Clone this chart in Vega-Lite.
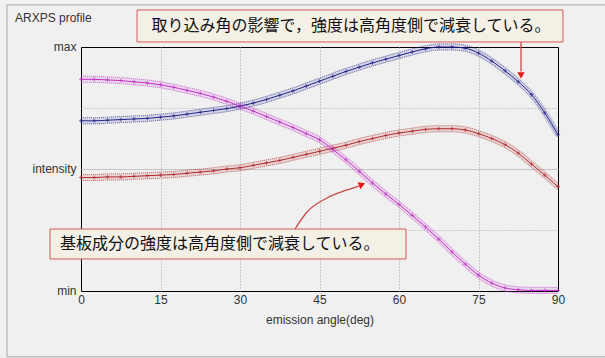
{
  "$schema": "https://vega.github.io/schema/vega-lite/v6.json",
  "width": 477,
  "height": 244,
  "autosize": {"type": "none"},
  "padding": {"left": 81, "top": 47, "right": 47, "bottom": 67},
  "background": "#f0f0f0",
  "config": {"view": {"stroke": "#000000", "strokeWidth": 1, "fill": "#f0f0f0"}, "font": "Liberation Sans"},
  "datasets": {
    "curves": [
      {"a":0,"s":"b","v":2.79},{"a":2.5,"s":"b","v":2.79},{"a":5,"s":"b","v":2.80},{"a":7.5,"s":"b","v":2.81},{"a":10,"s":"b","v":2.82},{"a":12.5,"s":"b","v":2.83},{"a":15,"s":"b","v":2.85},{"a":17.5,"s":"b","v":2.87},{"a":20,"s":"b","v":2.90},{"a":22.5,"s":"b","v":2.93},{"a":25,"s":"b","v":2.96},{"a":27.5,"s":"b","v":2.99},{"a":30,"s":"b","v":3.03},{"a":32.5,"s":"b","v":3.08},{"a":35,"s":"b","v":3.14},{"a":37.5,"s":"b","v":3.21},{"a":40,"s":"b","v":3.28},{"a":42.5,"s":"b","v":3.36},{"a":45,"s":"b","v":3.44},{"a":47.5,"s":"b","v":3.52},{"a":50,"s":"b","v":3.60},{"a":52.5,"s":"b","v":3.67},{"a":55,"s":"b","v":3.74},{"a":57.5,"s":"b","v":3.80},{"a":60,"s":"b","v":3.86},{"a":62.5,"s":"b","v":3.92},{"a":65,"s":"b","v":3.97},{"a":67.5,"s":"b","v":4.00},{"a":70,"s":"b","v":4.00},{"a":72.5,"s":"b","v":3.98},{"a":75,"s":"b","v":3.90},{"a":77.5,"s":"b","v":3.77},{"a":80,"s":"b","v":3.61},{"a":82.5,"s":"b","v":3.43},{"a":85,"s":"b","v":3.22},{"a":87.5,"s":"b","v":2.92},{"a":90,"s":"b","v":2.56},
      {"a":0,"s":"r","v":1.86},{"a":2.5,"s":"r","v":1.86},{"a":5,"s":"r","v":1.87},{"a":7.5,"s":"r","v":1.87},{"a":10,"s":"r","v":1.88},{"a":12.5,"s":"r","v":1.89},{"a":15,"s":"r","v":1.90},{"a":17.5,"s":"r","v":1.91},{"a":20,"s":"r","v":1.93},{"a":22.5,"s":"r","v":1.95},{"a":25,"s":"r","v":1.97},{"a":27.5,"s":"r","v":2.00},{"a":30,"s":"r","v":2.02},{"a":32.5,"s":"r","v":2.06},{"a":35,"s":"r","v":2.10},{"a":37.5,"s":"r","v":2.14},{"a":40,"s":"r","v":2.19},{"a":42.5,"s":"r","v":2.24},{"a":45,"s":"r","v":2.29},{"a":47.5,"s":"r","v":2.34},{"a":50,"s":"r","v":2.39},{"a":52.5,"s":"r","v":2.45},{"a":55,"s":"r","v":2.50},{"a":57.5,"s":"r","v":2.55},{"a":60,"s":"r","v":2.59},{"a":62.5,"s":"r","v":2.62},{"a":65,"s":"r","v":2.65},{"a":67.5,"s":"r","v":2.66},{"a":70,"s":"r","v":2.66},{"a":72.5,"s":"r","v":2.64},{"a":75,"s":"r","v":2.58},{"a":77.5,"s":"r","v":2.50},{"a":80,"s":"r","v":2.40},{"a":82.5,"s":"r","v":2.26},{"a":85,"s":"r","v":2.08},{"a":87.5,"s":"r","v":1.90},{"a":90,"s":"r","v":1.71},
      {"a":0,"s":"m","v":3.47},{"a":2.5,"s":"m","v":3.47},{"a":5,"s":"m","v":3.46},{"a":7.5,"s":"m","v":3.45},{"a":10,"s":"m","v":3.43},{"a":12.5,"s":"m","v":3.41},{"a":15,"s":"m","v":3.38},{"a":17.5,"s":"m","v":3.34},{"a":20,"s":"m","v":3.29},{"a":22.5,"s":"m","v":3.24},{"a":25,"s":"m","v":3.18},{"a":27.5,"s":"m","v":3.11},{"a":30,"s":"m","v":3.03},{"a":32.5,"s":"m","v":2.95},{"a":35,"s":"m","v":2.86},{"a":37.5,"s":"m","v":2.77},{"a":40,"s":"m","v":2.68},{"a":42.5,"s":"m","v":2.58},{"a":45,"s":"m","v":2.48},{"a":47.5,"s":"m","v":2.32},{"a":50,"s":"m","v":2.15},{"a":52.5,"s":"m","v":1.96},{"a":55,"s":"m","v":1.77},{"a":57.5,"s":"m","v":1.59},{"a":60,"s":"m","v":1.42},{"a":62.5,"s":"m","v":1.24},{"a":65,"s":"m","v":1.05},{"a":67.5,"s":"m","v":0.85},{"a":70,"s":"m","v":0.64},{"a":72.5,"s":"m","v":0.44},{"a":75,"s":"m","v":0.26},{"a":77.5,"s":"m","v":0.13},{"a":80,"s":"m","v":0.05},{"a":82.5,"s":"m","v":0.02},{"a":85,"s":"m","v":0.01},{"a":87.5,"s":"m","v":0.01},{"a":90,"s":"m","v":0.01}
    ],
    "frame": [{"a": -13.96, "a2": 99.5, "v": 4.69, "v2": -1.08}],
    "boxes": [
      {"a": 10.57, "a2": 90.94, "v": 4.607, "v2": 4.082},
      {"a": -5.85, "a2": 61.32, "v": 1.016, "v2": 0.525}
    ],
    "arrowTop": [{"a": 83.02, "v": 4.082}, {"a": 83.02, "v": 3.6}],
    "arrowCurve": [{"a": 40.38, "v": 1.016}, {"a": 42.64, "v": 1.295}, {"a": 46.42, "v": 1.525}, {"a": 50.19, "v": 1.656}, {"a": 52.4, "v": 1.72}],
    "headTop": [{"a": 83.02, "v": 3.535}],
    "headCurve": [{"a": 53.02, "v": 1.746}],
    "title": [{"a": -12.45, "v": 4.475, "t": "ARXPS profile"}],
    "labelTop": [{"a": 50.94, "v": 4.344, "t": "取り込み角の影響で，強度は高角度側で減衰している。"}],
    "labelBot": [{"a": -3.96, "v": 0.77, "t": "基板成分の強度は高角度側で減衰している。"}]
  },
  "encoding": {
    "x": {
      "field": "a", "type": "quantitative",
      "scale": {"domain": [0, 90], "nice": false, "zero": false},
      "axis": {
        "values": [0, 15, 30, 45, 60, 75, 90], "title": "emission angle(deg)",
        "domain": false, "ticks": false, "tickSize": 0, "labelPadding": 3,
        "labelFontSize": 12, "labelColor": "#333333", "labelFont": "Liberation Sans",
        "titleFontSize": 12, "titleFontWeight": "normal", "titleColor": "#333333", "titleFont": "Liberation Sans", "titlePadding": 9,
        "grid": true, "gridColor": "#a8a8a8", "gridDash": [1, 2],
        "gridOpacity": {"condition": {"test": "datum.value == 0 || datum.value == 90", "value": 0}, "value": 1},
        "labelFlush": false
      }
    },
    "y": {
      "field": "v", "type": "quantitative",
      "scale": {"domain": [0, 4], "nice": false, "zero": false},
      "axis": {
        "values": [0, 1, 2, 3, 4], "title": null,
        "labelExpr": "datum.value == 0 ? 'min' : datum.value == 2 ? 'intensity' : datum.value == 4 ? 'max' : ''",
        "domain": false, "ticks": false, "tickSize": 0, "labelPadding": 5,
        "labelFontSize": 12, "labelColor": "#333333", "labelFont": "Liberation Sans", "labelBaseline": "bottom", "labelOffset": 6,
        "grid": true,
        "gridColor": {"condition": {"test": "datum.value == 2", "value": "#c4c4c4"}, "value": "#a8a8a8"},
        "gridDash": {"condition": {"test": "datum.value == 2", "value": []}, "value": [1, 2]},
        "gridOpacity": {"condition": {"test": "datum.value == 0 || datum.value == 4", "value": 0}, "value": 1},
        "labelFlush": false
      }
    }
  },
  "layer": [
    {
      "data": {"name": "frame"},
      "mark": {"type": "rect", "fill": null, "fillOpacity": 0, "stroke": "#a9a9a9", "strokeWidth": 1},
      "encoding": {"x2": {"field": "a2"}, "y2": {"field": "v2"}}
    },
    {
      "data": {"name": "curves"},
      "mark": {"type": "line", "strokeWidth": 7, "opacity": 0.13, "interpolate": "monotone"},
      "encoding": {"color": {"field": "s", "type": "nominal", "scale": {"domain": ["b", "r", "m"], "range": ["#22228c", "#b02828", "#c030c8"]}, "legend": null}}
    },
    {
      "data": {"name": "curves"},
      "mark": {"type": "line", "strokeWidth": 1, "strokeDash": [1, 1], "opacity": 0.6, "yOffset": -3, "interpolate": "monotone"},
      "encoding": {"color": {"field": "s", "type": "nominal", "legend": null}}
    },
    {
      "data": {"name": "curves"},
      "mark": {"type": "line", "strokeWidth": 1, "strokeDash": [1, 1], "opacity": 0.6, "yOffset": 3, "interpolate": "monotone"},
      "encoding": {"color": {"field": "s", "type": "nominal", "legend": null}}
    },
    {
      "data": {"name": "curves"},
      "mark": {"type": "line", "strokeWidth": 1, "interpolate": "monotone"},
      "encoding": {"color": {"field": "s", "type": "nominal", "legend": null}}
    },
    {
      "data": {"name": "curves"},
      "mark": {"type": "point", "shape": "M-1,0H1M0,-1V1", "filled": false, "size": 14, "strokeWidth": 1, "opacity": 0.75},
      "encoding": {"color": {"field": "s", "type": "nominal", "legend": null}}
    },
    {
      "data": {"name": "arrowTop"},
      "mark": {"type": "line", "color": "#c84848", "strokeWidth": 1.3},
      "encoding": {}
    },
    {
      "data": {"name": "arrowCurve"},
      "mark": {"type": "line", "color": "#c84848", "strokeWidth": 1.3, "interpolate": "monotone"},
      "encoding": {}
    },
    {
      "data": {"name": "headTop"},
      "mark": {"type": "point", "shape": "triangle-down", "filled": true, "color": "#e01818", "size": 55, "opacity": 1},
      "encoding": {}
    },
    {
      "data": {"name": "headCurve"},
      "mark": {"type": "point", "shape": "triangle-up", "angle": 68, "filled": true, "color": "#e01818", "size": 55, "opacity": 1},
      "encoding": {}
    },
    {
      "data": {"name": "boxes"},
      "mark": {"type": "rect", "fill": "#f4f0e6", "stroke": "#d45a5a", "strokeWidth": 1},
      "encoding": {"x2": {"field": "a2"}, "y2": {"field": "v2"}}
    },
    {
      "data": {"name": "title"},
      "mark": {"type": "text", "font": "Liberation Sans", "fontSize": 12, "color": "#333333", "align": "left", "baseline": "middle"},
      "encoding": {"text": {"field": "t"}}
    },
    {
      "data": {"name": "labelTop"},
      "mark": {"type": "text", "font": "Noto Sans CJK JP", "fontSize": 16, "color": "#111111", "align": "center", "baseline": "middle"},
      "encoding": {"text": {"field": "t"}}
    },
    {
      "data": {"name": "labelBot"},
      "mark": {"type": "text", "font": "Noto Sans CJK JP", "fontSize": 16, "color": "#111111", "align": "left", "baseline": "middle"},
      "encoding": {"text": {"field": "t"}}
    }
  ]
}
